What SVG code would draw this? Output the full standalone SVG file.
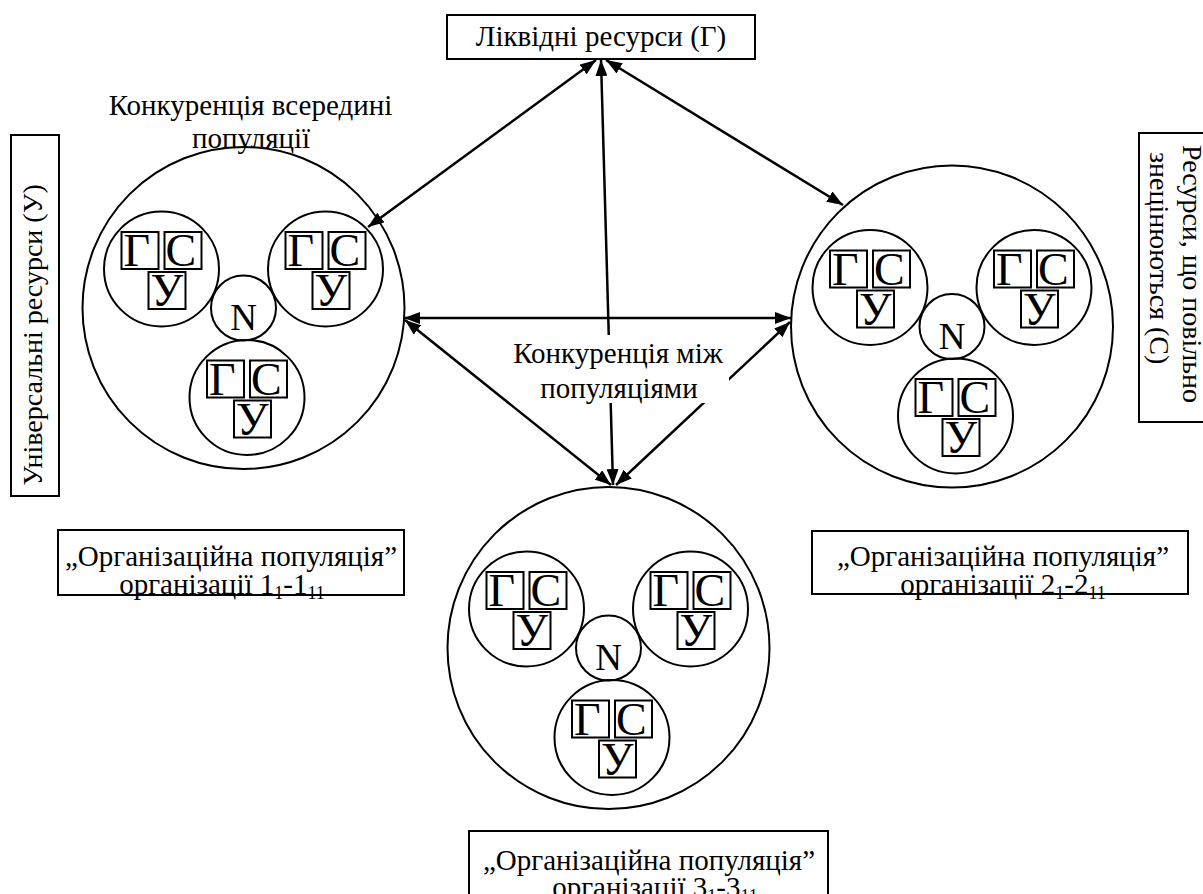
<svg xmlns="http://www.w3.org/2000/svg" xmlns:xlink="http://www.w3.org/1999/xlink" width="1203" height="894" viewBox="0 0 1203 894" font-family="'Liberation Serif', 'Times New Roman', serif">
  <style>
    text { font-family: "Liberation Serif", "Times New Roman", serif; fill: #000; }
    .lbl { font-size: 29px; }
    .vlbl { font-size: 28px; }
    .mid { text-anchor: middle; }
    .frame { fill: #fff; stroke: #000; stroke-width: 2; }
    .ring { fill: none; stroke: #000; stroke-width: 2; }
    .cellbox { fill: none; stroke: #000; stroke-width: 2; }
    .cellchar { font-size: 46px; }
    .nchar { font-size: 37px; text-anchor: middle; }
    .link { fill: none; stroke: #000; stroke-width: 2.5; marker-start: url(#head); marker-end: url(#head); }
  </style>
  <defs>
    <marker id="head" viewBox="0 0 16 12" refX="16" refY="6" markerWidth="16" markerHeight="12" markerUnits="userSpaceOnUse" orient="auto-start-reverse">
      <path d="M0,0 L16,6 L0,12 z" fill="#000"/>
    </marker>
    <!-- one organisation: circle holding the three resource boxes -->
    <g id="org">
      <circle cx="0" cy="0" r="57.5" class="ring"/>
      <rect x="-40" y="-37" width="37" height="37" class="cellbox"/>
      <rect x="3" y="-37" width="37" height="37" class="cellbox"/>
      <rect x="-13" y="3" width="37" height="37" class="cellbox"/>
      <text x="-38" y="-3" class="cellchar">Г</text>
      <text x="4" y="-3" class="cellchar">С</text>
      <text x="-11" y="37" class="cellchar">У</text>
    </g>
    <!-- a population: outer circle, three organisations and the niche N -->
    <g id="population">
      <circle cx="0" cy="0" r="161" class="ring"/>
      <use xlink:href="#org" transform="translate(-82,-39)"/>
      <use xlink:href="#org" transform="translate(82,-39)"/>
      <use xlink:href="#org" transform="translate(3.5,89.5)"/>
      <circle cx="0" cy="0" r="32.5" class="ring" fill="#fff"/>
      <text x="0" y="22" class="nchar">N</text>
    </g>
  </defs>

  <rect width="1203" height="894" fill="#fff"/>

  <!-- resource side boxes -->
  <g id="liquid-resources">
    <rect x="447" y="15" width="308" height="44" class="frame"/>
    <text x="601" y="46" class="lbl mid">Ліквідні ресурси (Г)</text>
  </g>
  <g id="universal-resources">
    <rect x="11" y="135" width="48" height="361" class="frame"/>
    <text transform="translate(42,335) rotate(-90)" class="vlbl mid">Універсальні ресурси (У)</text>
  </g>
  <g id="slow-resources">
    <rect x="1139" y="133" width="80" height="289" class="frame"/>
    <text transform="translate(1183,145) rotate(90)" class="vlbl">Ресурси, що повільно</text>
    <text transform="translate(1150,152) rotate(90)" class="vlbl">знецінюються (С)</text>
  </g>

  <!-- populations -->
  <g id="population-1">
    <use xlink:href="#population" transform="translate(243.5,308)"/>
  </g>
  <g id="population-2">
    <use xlink:href="#population" transform="translate(952,326.5)"/>
  </g>
  <g id="population-3">
    <use xlink:href="#population" transform="translate(608.5,648)"/>
  </g>

  <!-- connectors -->
  <g id="connectors">
    <line x1="596" y1="60" x2="368" y2="227" class="link"/>
    <line x1="601" y1="60" x2="613" y2="485" class="link"/>
    <line x1="606" y1="60" x2="843" y2="205" class="link"/>
    <line x1="404" y1="318" x2="791" y2="318" class="link"/>
    <line x1="405" y1="320" x2="611" y2="485" class="link"/>
    <line x1="790" y1="322" x2="616" y2="485" class="link"/>
  </g>

  <!-- annotations -->
  <g id="within-label">
    <text x="250.5" y="115" class="lbl mid">Конкуренція всередині</text>
    <text x="251" y="148" class="lbl mid">популяції</text>
  </g>
  <g id="between-label">
    <rect x="516" y="335" width="213" height="68" fill="#fff"/>
    <text x="618" y="363" class="lbl mid">Конкуренція між</text>
    <text x="619" y="398" class="lbl mid">популяціями</text>
  </g>

  <g id="caption-1">
    <rect x="58" y="530" width="346" height="65" class="frame"/>
    <text x="231" y="566" class="lbl mid">„Організаційна популяція”</text>
    <text x="222" y="594" class="lbl mid">організації 1<tspan font-size="18" dy="5">1</tspan><tspan dy="-5">-1</tspan><tspan font-size="18" dy="5">11</tspan></text>
  </g>
  <g id="caption-2">
    <rect x="812" y="531" width="376" height="63" class="frame"/>
    <text x="1003" y="566" class="lbl mid">„Організаційна популяція”</text>
    <text x="1003" y="594" class="lbl mid">організації 2<tspan font-size="18" dy="5">1</tspan><tspan dy="-5">-2</tspan><tspan font-size="18" dy="5">11</tspan></text>
  </g>
  <g id="caption-3">
    <rect x="469" y="831" width="359" height="80" class="frame"/>
    <text x="649" y="870" class="lbl mid">„Організаційна популяція”</text>
    <text x="655" y="897" class="lbl mid">організації 3<tspan font-size="18" dy="5">1</tspan><tspan dy="-5">-3</tspan><tspan font-size="18" dy="5">11</tspan></text>
  </g>
</svg>
